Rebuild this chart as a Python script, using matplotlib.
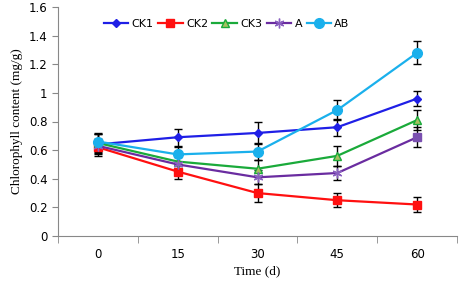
import numpy as np
import matplotlib
matplotlib.use("Agg")
import matplotlib.pyplot as plt
from matplotlib.ticker import FixedLocator

# Data
days = ["0", "15", "30", "45", "60"]
ck1 = [0.64, 0.69, 0.72, 0.76, 0.96]
ck2 = [0.62, 0.45, 0.30, 0.25, 0.22]
ck3 = [0.65, 0.52, 0.47, 0.56, 0.81]
a = [0.63, 0.50, 0.41, 0.44, 0.69]
ab = [0.66, 0.57, 0.59, 0.88, 1.28]

ck1_err = [0.07, 0.06, 0.08, 0.06, 0.05]
ck2_err = [0.06, 0.05, 0.06, 0.05, 0.05]
ck3_err = [0.06, 0.05, 0.06, 0.07, 0.07]
a_err = [0.05, 0.05, 0.05, 0.05, 0.07]
ab_err = [0.06, 0.05, 0.06, 0.07, 0.08]

fig = plt.figure(figsize=(4.61, 2.85), dpi=100)
ax = fig.add_axes([58/461, 49/285, 399/461, 229/285])

x = np.arange(len(days))
asterisk = (6, 2, 0)
series = [
    ("CK1", ck1, ck1_err, "#1f1fe6", "D", "#1f1fe6", "#1f1fe6", 4),
    ("CK2", ck2, ck2_err, "#ff1010", "s", "#ff1010", "#ff1010", 6),
    ("CK3", ck3, ck3_err, "#1aaa3a", "^", "#a8c060", "#1aaa3a", 6),
    ("A", a, a_err, "#6a2ca0", asterisk, "#8a60c0", "#8a60c0", 7),
    ("AB", ab, ab_err, "#1ab0ec", "o", "#1ab0ec", "#1ab0ec", 7),
]

for name, vals, err, col, mk, fc, ec, ms in series:
    ax.errorbar(x, vals, yerr=err, fmt="none", ecolor="black", elinewidth=1,
                capsize=3, capthick=1, zorder=2)
    every = [0, 1, 2, 3] if name == "A" else None
    ax.plot(x, vals, color=col, lw=1.6, marker=mk, markersize=ms,
            markerfacecolor=fc, markeredgecolor=ec, markevery=every,
            label=name, zorder=3)
    if name == "A":
        # last point of A is drawn as a square in the original
        ax.plot(x[-1:], vals[-1:], ls="none", marker="s", markersize=6,
                color="#7a50b0", zorder=3)

ax.set_xlim(-0.5, 4.5)
ax.set_ylim(0, 1.6)
ax.set_yticks(np.arange(0, 1.61, 0.2))
ax.set_yticklabels(["0", "0.2", "0.4", "0.6", "0.8", "1", "1.2", "1.4", "1.6"])
ax.xaxis.set_major_locator(FixedLocator(x))
ax.set_xticklabels(days)
ax.xaxis.set_minor_locator(FixedLocator(np.arange(-0.5, 4.6, 1)))
ax.tick_params(axis="x", which="major", length=0, pad=9, labelsize=8.5)
ax.tick_params(axis="x", which="minor", length=5, color="#888888", direction="out")
ax.tick_params(axis="y", length=4, color="#888888", labelsize=8.5)

for s in ["top", "right"]:
    ax.spines[s].set_visible(False)
for s in ["left", "bottom"]:
    ax.spines[s].set_color("#888888")

ax.set_xlabel("Time (d)", family="Liberation Serif", fontsize=9.5, labelpad=3)
ax.set_ylabel("Chlorophyll content (mg/g)", family="Liberation Serif", fontsize=9.5)

ax.legend(loc="upper left", bbox_to_anchor=(0.09, 0.99), ncol=5, frameon=False,
          fontsize=8, handlelength=2.2, columnspacing=0.4, handletextpad=0.3)

fig.savefig("out.png", dpi=100)
